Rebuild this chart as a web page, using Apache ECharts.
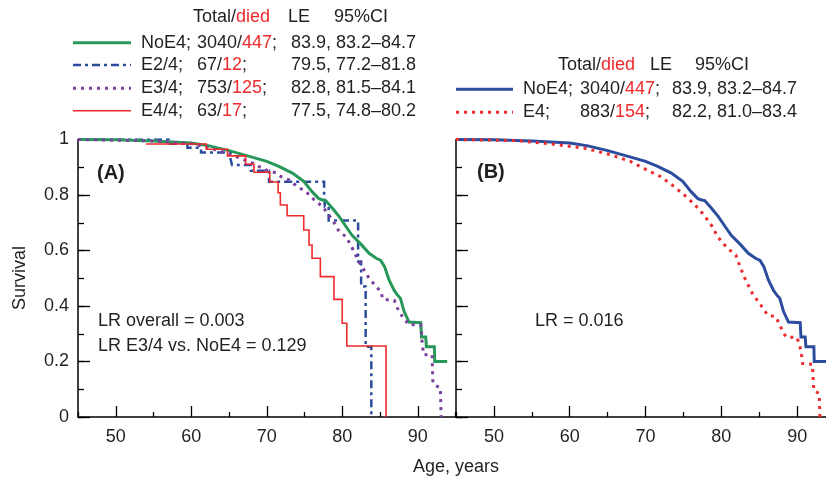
<!DOCTYPE html>
<html><head><meta charset="utf-8">
<script src="https://cdn.jsdelivr.net/npm/echarts@6/dist/echarts.min.js"></script>
<style>html,body{margin:0;padding:0;background:#fff}#c{width:826px;height:479px}</style>
</head><body><div id="c"></div>
<script>
// ---- data ----
var noE4 = [[45,1],[50,0.999],[55,0.995],[60,0.987],[62.4,0.977],[65,0.96],[67.7,0.939],[70,0.921],[71.6,0.903],[73.4,0.879],[74.9,0.849],[76,0.812],[76.9,0.787],[77.4,0.782],[77.8,0.78],[78.7,0.752],[79.6,0.722],[80.4,0.69],[81.3,0.655],[82.5,0.622],[83.55,0.59],[84.5,0.572],[85.1,0.564],[85.6,0.542],[86.2,0.494],[86.9,0.455],[87.3,0.44],[87.7,0.428],[88.2,0.38],[88.85,0.342],[90.4,0.34],[90.5,0.288],[91.06,0.288],[91.15,0.253],[92.2,0.253],[92.25,0.2],[93.9,0.2]];
var e24 = [[45,1],[57,0.985],[59.5,0.97],[61.3,0.953],[65.2,0.93],[65.4,0.908],[67.9,0.887],[70.3,0.848],[77.6,0.8],[77.7,0.758],[78.2,0.708],[82.1,0.56],[82.5,0.47],[83.1,0.253],[83.85,0]];
var e34 = [[45,1],[55,0.995],[60,0.985],[62.4,0.97],[65.4,0.944],[66.8,0.929],[68.1,0.915],[69.9,0.89],[71.2,0.88],[71.9,0.866],[73,0.854],[74.05,0.83],[75.2,0.812],[76.3,0.782],[77.4,0.758],[78.7,0.71],[79.6,0.668],[80.5,0.65],[81.3,0.61],[82.2,0.56],[83.55,0.5],[84.5,0.47],[85.1,0.452],[85.4,0.424],[86.9,0.42],[87.5,0.38],[88.3,0.35],[88.85,0.332],[90.4,0.332],[90.6,0.26],[90.8,0.224],[91.9,0.224],[92.0,0.13],[92.2,0.115],[93.0,0.105],[93.1,0]];
var e44 = [[54,0.984],[62.0,0.965],[64.8,0.941],[67.2,0.911],[68.3,0.882],[70.4,0.847],[71.5,0.808],[71.8,0.764],[72.7,0.725],[74.9,0.674],[75.6,0.62],[76.0,0.572],[77.1,0.506],[78.9,0.424],[80.0,0.338],[80.6,0.256],[85.8,0]];
var e4any = [[45,1],[53.1,0.996],[57.5,0.984],[61.9,0.969],[65.4,0.945],[68,0.921],[70.2,0.89],[72,0.866],[73.5,0.836],[75.1,0.8],[76.4,0.768],[77.7,0.728],[78.8,0.686],[79.5,0.65],[80.8,0.608],[81.9,0.584],[82.3,0.554],[83,0.505],[84.1,0.445],[85.2,0.403],[86.1,0.367],[87.2,0.361],[87.8,0.325],[88.5,0.289],[90,0.286],[90.5,0.24],[90.7,0.193],[92,0.19],[92.2,0.096],[92.9,0.084],[93,0]];

var xMajorTicks = [50,60,70,80,90];
var yMajorTicks = [0,0.2,0.4,0.6,0.8,1];

var groupsA = ['NoE4;','E2/4;','E3/4;','E4/4;'];
var totalsA = ['3040/','67/','753/','63/'];
var diedA = ['447','12','125','17'];
var leA = ['83.9, 83.2\u201384.7','79.5, 77.2\u201381.8','82.8, 81.5\u201384.1','77.5, 74.8\u201380.2'];
var groupsB = ['NoE4;','E4;'];
var totalsB = ['3040/','883/'];
var diedB = ['447','154'];
var leB = ['83.9, 83.2\u201384.7','82.2, 81.0\u201383.4'];

// ---- styles ----
var FONT = '"Liberation Sans", Arial, sans-serif';
var TXT = '#231f20';
var C_GREEN = '#27985a', C_BLUE = '#2c4c9e', C_PURPLE = '#7b3f9f', C_RED = '#ed2a2c';
var dashDot = [8,4,3,4], dots = [3,5];

var styleA = [
  {color:C_GREEN, width:3, type:'solid'},
  {color:C_BLUE, width:2.5, type:dashDot},
  {color:C_PURPLE, width:3, type:dots},
  {color:C_RED, width:1.6, type:'solid'}
];
var styleB = [
  {color:C_BLUE, width:3, type:'solid'},
  {color:C_RED, width:3, type:dots}
];

function xAxes(grid, xmax){
  return [
    {type:'value', gridIndex:grid, position:'bottom', offset:0, min:45, max:xmax, interval:5,
     axisLine:{show:true, onZero:false, lineStyle:{color:'#000', width:1.5}},
     axisTick:{show:true, inside:true, length:5, customValues:[45,55,65,75,85,95], lineStyle:{color:'#000', width:1.3}},
     axisLabel:{show:false}, splitLine:{show:false}},
    {type:'value', gridIndex:grid, position:'bottom', offset:0, min:45, max:xmax,
     axisLine:{show:false, onZero:false},
     axisTick:{show:true, inside:true, length:11, customValues:xMajorTicks, lineStyle:{color:'#000', width:1.3}},
     axisLabel:{show:true, customValues:xMajorTicks, margin:11, fontSize:18, color:TXT, fontFamily:FONT},
     splitLine:{show:false}}
  ];
}
function yAxes(grid, labels){
  return [
    {type:'value', gridIndex:grid, position:'left', offset:0, min:0, max:1, interval:0.1,
     axisLine:{show:true, onZero:false, lineStyle:{color:'#000', width:1.5}},
     axisTick:{show:true, inside:true, length:6, lineStyle:{color:'#000', width:1.3}},
     axisLabel:{show:false}, splitLine:{show:false}},
    {type:'value', gridIndex:grid, position:'left', offset:0, min:0, max:1,
     axisLine:{show:false, onZero:false},
     axisTick:{show:true, inside:true, length:12, customValues:yMajorTicks, lineStyle:{color:'#000', width:1.3}},
     axisLabel:{show:labels, customValues:yMajorTicks, margin:9, fontSize:18, color:TXT, fontFamily:FONT},
     splitLine:{show:false}}
  ];
}

function ser(data, st, xi, yi, step, z){
  return {type:'line', data:data, xAxisIndex:xi, yAxisIndex:yi, step:step||false,
    symbol:'none', showSymbol:false, silent:true, animation:false, z:z,
    lineStyle:{color:st.color, width:st.width, type:st.type, cap:'butt', join:'miter'}};
}

// ---- legend graphics ----
var g = [];
function txt(x, y, text, extra){
  var s = {x:x, y:y, text:text, font:'18px '+FONT, fill:TXT, textAlign:'left', textVerticalAlign:'middle',
    rich:{k:{fill:TXT, font:'18px '+FONT}, r:{fill:C_RED, font:'18px '+FONT}}};
  if (extra) for (var k in extra) s[k] = extra[k];
  g.push({type:'text', silent:true, style:s});
}
function lineSample(x1, x2, y, st){
  g.push({type:'line', silent:true, shape:{x1:x1, y1:y, x2:x2, y2:y},
    style:{stroke:st.color, lineWidth:st.width, lineDash:(st.type==='solid'?null:st.type)}});
}
// Legend A
txt(193, 17, '{k|Total/}{r|died}');
txt(288, 17, 'LE');
txt(334, 17, '95%CI');
var rowsA = [42.7, 65, 88.3, 110.7];
for (var i=0;i<groupsA.length;i++){
  lineSample(73, 131, rowsA[i], styleA[i]);
  txt(141, rowsA[i], groupsA[i]);
  txt(197, rowsA[i], '{k|'+totalsA[i]+'}{r|'+diedA[i]+'}{k|;}');
  txt(291, rowsA[i], leA[i]);
}
// Legend B
txt(558, 65, '{k|Total/}{r|died}');
txt(650, 65, 'LE');
txt(695, 65, '95%CI');
var rowsB = [89.3, 112.3];
for (var j=0;j<groupsB.length;j++){
  lineSample(456, 513, rowsB[j], styleB[j]);
  txt(523, rowsB[j], groupsB[j]);
  txt(580, rowsB[j], '{k|'+totalsB[j]+'}{r|'+diedB[j]+'}{k|;}');
  txt(672, rowsB[j], leB[j]);
}
// panel labels and notes
txt(97, 173, '(A)', {font:'bold 20px '+FONT});
txt(477, 172, '(B)', {font:'bold 20px '+FONT});
txt(98, 321, 'LR overall = 0.003');
txt(98, 346, 'LR E3/4 vs. NoE4 = 0.129');
txt(535, 321, 'LR = 0.016');
g.push({type:'text', silent:true, x:20, y:278, rotation:Math.PI/2,
  style:{x:0, y:0, text:'Survival', font:'18px '+FONT, fill:TXT, textAlign:'center', textVerticalAlign:'middle'}});
txt(456, 467, 'Age, years', {textAlign:'center'});

var chart = echarts.init(document.getElementById('c'), null, {renderer:'canvas'});
chart.setOption({
  backgroundColor:'#fff',
  animation:false,
  grid:[
    {left:78, top:139.5, width:377.5, height:277.5, containLabel:false},
    {left:456, top:139.5, width:370, height:277.5, containLabel:false}
  ],
  xAxis: xAxes(0, 95).concat(xAxes(1, 93.8)),
  yAxis: yAxes(0, true).concat(yAxes(1, false)),
  series:[
    ser(e24, styleA[1], 0, 0, 'end', 2),
    ser(noE4, styleA[0], 0, 0, false, 3),
    ser(e34, styleA[2], 0, 0, false, 4),
    ser(e44, styleA[3], 0, 0, 'end', 5),
    ser(noE4, styleB[0], 2, 2, false, 3),
    ser(e4any, styleB[1], 2, 2, false, 4)
  ],
  graphic: g
});
</script></body></html>
